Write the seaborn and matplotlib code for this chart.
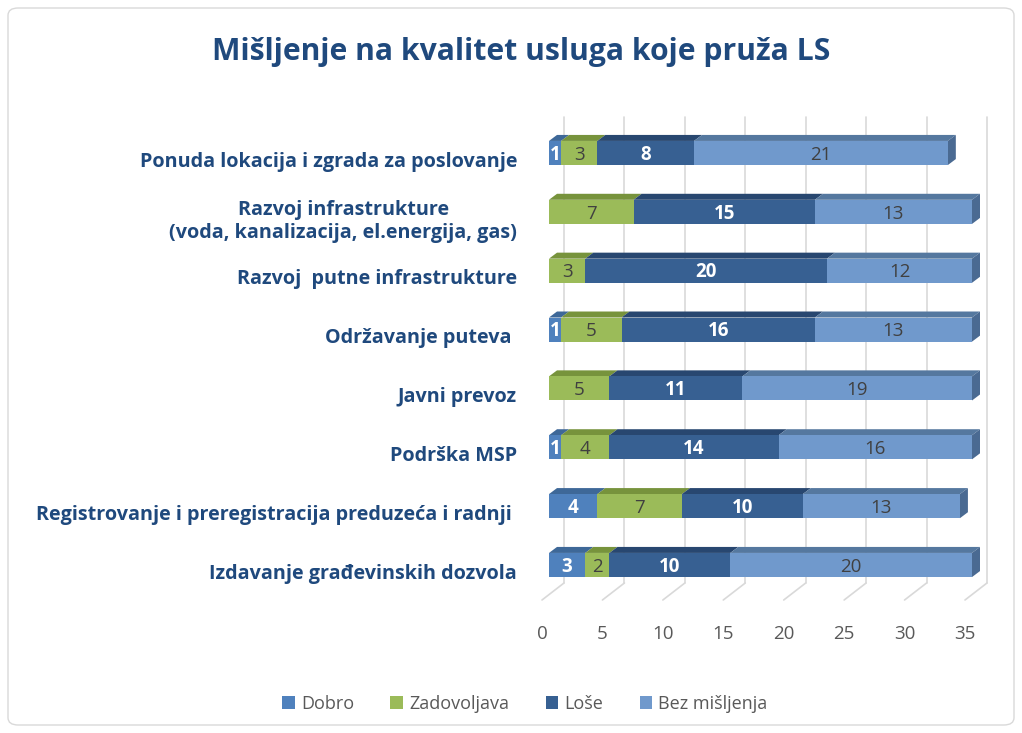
import numpy as np
import pandas as pd
import matplotlib
matplotlib.use("Agg")
import matplotlib.pyplot as plt
import seaborn as sns
from matplotlib.patches import Polygon, Patch, FancyBboxPatch
from matplotlib.lines import Line2D
from matplotlib.transforms import ScaledTranslation

# ---------------- data ----------------
categories = [
    "Ponuda lokacija i zgrada za poslovanje",
    "Razvoj infrastrukture\n(voda, kanalizacija, el.energija, gas)",
    "Razvoj  putne infrastrukture",
    "Održavanje puteva ",
    "Javni prevoz",
    "Podrška MSP",
    "Registrovanje i preregistracija preduzeća i radnji ",
    "Izdavanje građevinskih dozvola",
]
dobro = [1, 0, 0, 1, 0, 1, 4, 3]
zadovoljava = [3, 7, 3, 5, 5, 4, 7, 2]
lose = [8, 15, 20, 16, 11, 14, 10, 10]
bez_misljenja = [21, 13, 12, 13, 19, 16, 13, 20]
series_names = ["Dobro", "Zadovoljava", "Loše", "Bez mišljenja"]
x_ticks = [0, 5, 10, 15, 20, 25, 30, 35]
title = "Mišljenje na kvalitet usluga koje pruža LS"

series = [dobro, zadovoljava, lose, bez_misljenja]

# ---------------- style ----------------
front_colors = ["#4F81BD", "#9BBB59", "#376092", "#7099CC"]
top_colors = ["#3E6898", "#77933C", "#284770", "#55789F"]
side_color = "#4A6A92"
label_colors = ["white", "#404040", "white", "#404040"]
label_weights = ["bold", "normal", "bold", "normal"]

sns.set_theme(style="white")
plt.rcParams["font.family"] = ["Open Sans", "DejaVu Sans"]

W, H = 1022, 733
fig = plt.figure(figsize=(W / 100, H / 100), dpi=100)
fig.patch.set_facecolor("white")

x0_px, x1_px = 549, 972
row_top_px, row_bot_px = 153, 565
row_step = (row_bot_px - row_top_px) / 7
floor_px = 600
ytop_data = -1.0
ybot_data = 7 + (floor_px - row_bot_px) / row_step
top_px = row_top_px + ytop_data * row_step

ax = fig.add_axes([x0_px / W, (H - floor_px) / H, (x1_px - x0_px) / W, (floor_px - top_px) / H])

n = len(categories)
df = pd.DataFrame({"cat": categories})
cum = np.zeros(n)
cums = []
for s in series:
    cum = cum + np.array(s)
    cums.append(cum.copy())

bar_h = 0.41
for i in reversed(range(len(series))):
    df["val"] = cums[i]
    sns.barplot(data=df, x="val", y="cat", orient="h", color=front_colors[i],
                saturation=1, width=bar_h, linewidth=0, edgecolor="none",
                ax=ax, zorder=3)

ax.set_xlim(0, 35)
ax.set_ylim(ybot_data, ytop_data)
for sp in ax.spines.values():
    sp.set_visible(False)
ax.set_xlabel("")
ax.set_ylabel("")
ax.set_facecolor("none")

# pixel -> data scales
px_x = (x1_px - x0_px) / 35.0
px_y = row_step

dx3 = 8 / px_x
dy3 = 6 / px_y

# 3D faces
for r in range(n):
    yc = r
    yt = yc - bar_h / 2
    yb = yc + bar_h / 2
    left = 0.0
    last_i = max(i for i in range(len(series)) if series[i][r] > 0)
    for i, s in enumerate(series):
        w = s[r]
        if w <= 0:
            continue
        xa, xb = left, left + w
        ax.add_patch(Polygon([(xa, yt), (xb, yt), (xb + dx3, yt - dy3), (xa + dx3, yt - dy3)],
                             closed=True, facecolor=top_colors[i], edgecolor="none",
                             zorder=2.9, clip_on=False))
        if i == last_i:
            ax.add_patch(Polygon([(xb, yt), (xb, yb), (xb + dx3, yb - dy3), (xb + dx3, yt - dy3)],
                                 closed=True, facecolor=side_color, edgecolor="none",
                                 zorder=2.9, clip_on=False))
        ax.text((xa + xb) / 2, yc + 0.03, f"{w}", ha="center", va="center",
                color=label_colors[i], fontsize=13.5, fontweight=label_weights[i], zorder=5)
        left = xb

# wall gridlines and floor
wall_dx = 15 / px_x
wall_dy = 17 / px_y
floor_dx = -7 / px_x
grid_top = -0.62
for t in x_ticks:
    ax.add_line(Line2D([t + wall_dx, t + wall_dx], [ybot_data - wall_dy, grid_top],
                       color="#D9D9D9", lw=1.2, zorder=1, clip_on=False))
    ax.add_line(Line2D([t + floor_dx, t + wall_dx], [ybot_data, ybot_data - wall_dy],
                       color="#D9D9D9", lw=1.2, zorder=1, clip_on=False))

# ticks
ax.set_xticks(x_ticks)
ax.set_xticklabels([str(t) for t in x_ticks])
ax.tick_params(axis="x", length=0, pad=18, labelsize=13.5, labelcolor="#595959")
for lab in ax.get_xticklabels():
    lab.set_transform(lab.get_transform() + ScaledTranslation(-7 / 100, 0, fig.dpi_scale_trans))

ax.tick_params(axis="y", length=0, pad=23, labelsize=14.2, labelcolor="#1F497D")
for lab in ax.get_yticklabels():
    lab.set_fontweight("bold")
    lab.set_multialignment("center")
    lab.set_transform(lab.get_transform() + ScaledTranslation(0, -6 / 100, fig.dpi_scale_trans))

# title
fig.text(521 / W, 1 - 52 / H, title, ha="center", va="center",
         fontsize=21.7, fontweight="bold", color="#1F497D")

# legend
handles = [Patch(facecolor=c, edgecolor="none") for c in front_colors]
fig.legend(handles, series_names, loc="center", bbox_to_anchor=(525 / W, 1 - 704 / H),
           ncol=4, frameon=False, handlelength=0.7, handleheight=0.7, handletextpad=0.35,
           columnspacing=2.0, fontsize=13, labelcolor="#595959")

# outer border
fig.patches.append(FancyBboxPatch((8 / W, 8 / H), 1 - 16 / W, 1 - 16 / H,
                                  boxstyle="round,pad=0,rounding_size=0.01",
                                  transform=fig.transFigure, fill=False,
                                  edgecolor="#D9D9D9", lw=1))

fig.savefig("out.png", dpi=100)
